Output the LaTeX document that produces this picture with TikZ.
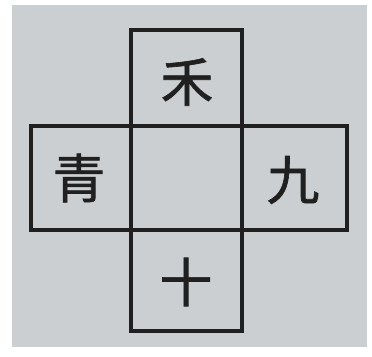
\documentclass[tikz,border=0pt]{standalone}
\usepackage{fontspec}
\newfontfamily\cjk[FakeBold=1.2]{Noto Sans CJK SC}
\definecolor{paper}{RGB}{203,207,209}
\definecolor{ink}{RGB}{32,32,32}
\begin{document}
\begin{tikzpicture}[x=0.02cm,y=-0.02cm,
	grid/.style={draw=ink,line width=2.2pt},
	hanzi/.style={text=ink,font=\cjk\fontsize{30}{30}\selectfont,inner sep=0pt}]
\useasboundingbox (0,0) rectangle (372,357);
\fill[white] (0,0) rectangle (372,357);
\fill[paper] (12,5) rectangle (367,347);
\coordinate (top) at (131,30);
\coordinate (bot) at (242,331);
\coordinate (left) at (31,126);
\coordinate (right) at (347,230);
%\coordinate (mid) at (186,178);
\draw[grid] (top) rectangle (bot);
\draw[grid] (left) rectangle (right);
\node[hanzi] (he) at (187,82) {禾};
\node[hanzi] (qing) at (79,178) {青};
\node[hanzi] (jiu) at (293,180) {九};
\node[hanzi] (shi) at (186,282) {十};
\end{tikzpicture}
\end{document}
